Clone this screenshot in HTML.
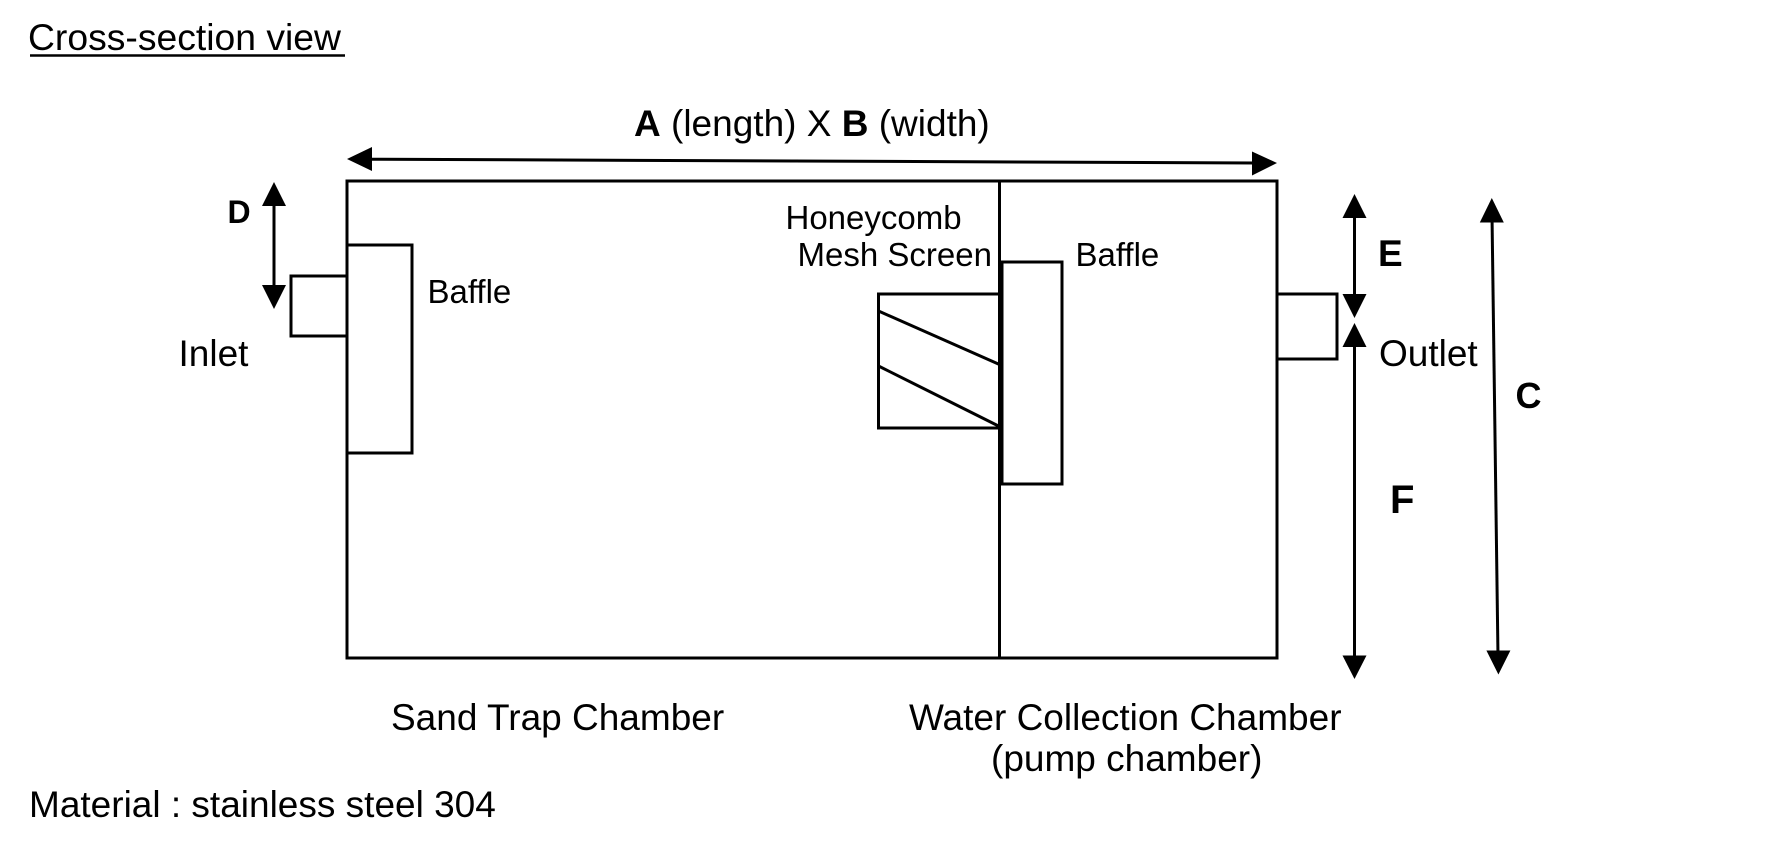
<!DOCTYPE html>
<html>
<head>
<meta charset="utf-8">
<style>
  html, body { margin: 0; padding: 0; background: #ffffff; }
  body { width: 1778px; height: 854px; overflow: hidden; }
  svg { display: block; }
  text { font-family: "Liberation Sans", Arial, sans-serif; fill: #000; }
  .b { font-weight: bold; }
</style>
</head>
<body>
<svg width="1778" height="854" viewBox="0 0 1778 854" xmlns="http://www.w3.org/2000/svg">
  <rect x="0" y="0" width="1778" height="854" fill="#fff"/>

  <!-- Title -->
  <text x="28" y="50" font-size="37.3">Cross-section view</text>
  <line x1="30" y1="55.5" x2="345" y2="55.5" stroke="#000" stroke-width="2.5"/>

  <!-- A x B label -->
  <text x="634" y="136" font-size="37"><tspan class="b">A</tspan> (length) X <tspan class="b">B</tspan> (width)</text>

  <!-- A arrow (slightly sloped) -->
  <line x1="368" y1="159.2" x2="1256" y2="163" stroke="#000" stroke-width="3"/>
  <polygon points="347,159 372,147 372,171" fill="#000"/>
  <polygon points="1277,163 1252,151.5 1252,175.5" fill="#000"/>

  <!-- Main box -->
  <rect x="347" y="181" width="930" height="477" fill="none" stroke="#000" stroke-width="3"/>
  <!-- Divider -->
  <line x1="999.5" y1="181" x2="999.5" y2="658" stroke="#000" stroke-width="3"/>

  <!-- Inlet -->
  <rect x="291" y="276" width="56" height="60" fill="#fff" stroke="#000" stroke-width="3"/>
  <!-- Baffle 1 -->
  <rect x="347" y="245" width="65" height="208" fill="#fff" stroke="#000" stroke-width="3"/>
  <line x1="347" y1="181" x2="347" y2="658" stroke="#000" stroke-width="3"/>

  <!-- Mesh screen box -->
  <rect x="878.5" y="294" width="121" height="134" fill="#fff" stroke="#000" stroke-width="3"/>
  <line x1="878.5" y1="311" x2="999.5" y2="364.5" stroke="#000" stroke-width="3"/>
  <line x1="878.5" y1="366" x2="999.5" y2="426.5" stroke="#000" stroke-width="3"/>

  <!-- Baffle 2 -->
  <rect x="1002" y="262" width="60" height="222" fill="#fff" stroke="#000" stroke-width="3"/>
  <line x1="999.5" y1="181" x2="999.5" y2="658" stroke="#000" stroke-width="3"/>

  <!-- Outlet -->
  <rect x="1277" y="294" width="60" height="65" fill="#fff" stroke="#000" stroke-width="3"/>

  <!-- D arrow -->
  <line x1="274" y1="200" x2="274" y2="290" stroke="#000" stroke-width="3"/>
  <polygon points="274,182 262,206 286,206" fill="#000"/>
  <polygon points="274,309 262,285 286,285" fill="#000"/>
  <text class="b" x="227.5" y="223" font-size="32">D</text>

  <!-- E arrow -->
  <line x1="1354.5" y1="212" x2="1354.5" y2="300" stroke="#000" stroke-width="3"/>
  <polygon points="1354.5,194 1342.5,218 1366.5,218" fill="#000"/>
  <polygon points="1354.5,318 1342.5,294 1366.5,294" fill="#000"/>
  <text class="b" x="1378" y="266" font-size="37">E</text>

  <!-- F arrow -->
  <line x1="1354.5" y1="340" x2="1354.5" y2="662" stroke="#000" stroke-width="3"/>
  <polygon points="1354.5,323 1342.5,347 1366.5,347" fill="#000"/>
  <polygon points="1354.5,679 1342.5,655.5 1366.5,655.5" fill="#000"/>
  <text class="b" x="1390" y="513" font-size="40">F</text>

  <!-- C arrow (slightly sloped) -->
  <line x1="1492" y1="215" x2="1498" y2="657" stroke="#000" stroke-width="3"/>
  <polygon points="1491.8,198 1479.8,222.5 1503.8,222.5" fill="#000"/>
  <polygon points="1498.4,674.5 1486.4,650.5 1510.4,650.5" fill="#000"/>
  <text class="b" x="1515.5" y="408" font-size="36">C</text>

  <!-- Labels -->
  <text x="178.5" y="366" font-size="37">Inlet</text>
  <text x="427.5" y="303" font-size="33">Baffle</text>
  <text x="785.5" y="229" font-size="33">Honeycomb</text>
  <text x="797.5" y="266" font-size="33">Mesh Screen</text>
  <text x="1075.5" y="266" font-size="33">Baffle</text>
  <text x="1379" y="366" font-size="37">Outlet</text>

  <text x="391" y="730" font-size="37">Sand Trap Chamber</text>
  <text x="909" y="730" font-size="37">Water Collection Chamber</text>
  <text x="991" y="771" font-size="37">(pump chamber)</text>

  <text x="29" y="817" font-size="37">Material : stainless steel 304</text>
</svg>
</body>
</html>
